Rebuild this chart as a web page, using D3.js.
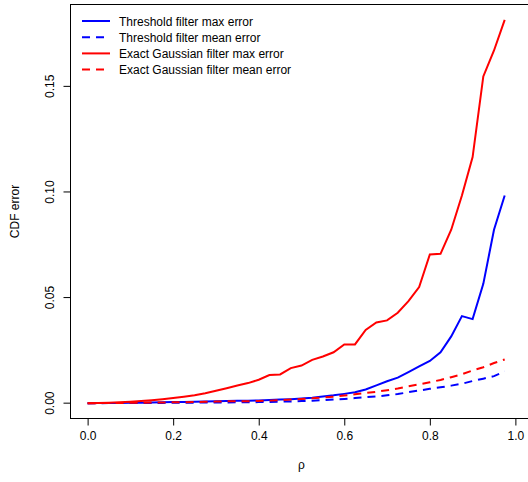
<!DOCTYPE html>
<html>
<head>
<meta charset="utf-8">
<script src="https://cdn.jsdelivr.net/npm/d3@7"></script>
<style>
body{margin:0;background:#fff}
text{font-family:"Liberation Sans",Arial,Helvetica,sans-serif}
</style>
</head>
<body>
<div id="chart"></div>
<script>
var rho=[0,0.025,0.05,0.075,0.1,0.125,0.15,0.175,0.2,0.225,0.25,0.275,0.3,0.325,0.35,0.375,0.4,0.425,0.45,0.475,
         0.5,0.525,0.55,0.575,0.6,0.625,0.65,0.675,0.7,0.725,0.75,0.775,0.8,0.825,0.85,0.875,0.9,0.925,0.95,0.975];
var thrMax=[0,0.00002,0.00005,0.0001,0.00015,0.0002,0.0003,0.0004,0.0005,0.0006,0.0007,0.0008,0.0009,0.001,0.0011,0.0012,0.0013,0.0015,0.0017,0.0019,
            0.0022,0.0026,0.0032,0.0037,0.0044,0.0052,0.0065,0.0084,0.0104,0.0121,0.0147,0.0174,0.0200,0.0241,0.0316,0.0412,0.0398,0.0565,0.0821,0.0983];
var thrMean=[0,0.00001,0.00002,0.00004,0.00006,0.00008,0.0001,0.00013,0.00016,0.0002,0.00024,0.00028,0.00032,0.00037,0.00042,0.00047,0.0005,0.0006,0.0007,0.0008,
             0.001,0.0012,0.0014,0.0017,0.002,0.0024,0.0028,0.0032,0.0037,0.0043,0.0052,0.006,0.0068,0.0075,0.0083,0.0092,0.0105,0.0116,0.0128,0.015];
var gauMax=[0,0.00005,0.0002,0.0004,0.0007,0.001,0.0014,0.0019,0.0024,0.003,0.0037,0.0047,0.0059,0.0071,0.0084,0.0095,0.0111,0.0133,0.0136,0.0166,
            0.0178,0.0205,0.0221,0.0241,0.0278,0.0278,0.0347,0.0382,0.0392,0.0428,0.0483,0.055,0.0704,0.0707,0.0821,0.0983,0.1165,0.1547,0.167,0.1815];
var gauMean=[0,0.00002,0.00005,0.0001,0.00015,0.0002,0.00026,0.00032,0.0004,0.00048,0.00056,0.00065,0.00075,0.00085,0.0009,0.00095,0.001,0.0012,0.0014,0.0017,
             0.002,0.0023,0.0027,0.0031,0.0036,0.0042,0.0048,0.0054,0.0061,0.0069,0.008,0.0089,0.0099,0.011,0.0123,0.0137,0.0155,0.017,0.019,0.0207];
var xticks=[0,0.2,0.4,0.6,0.8,1.0];
var yticks=[0,0.05,0.10,0.15];
var labels=["Threshold filter max error","Threshold filter mean error","Exact Gaussian filter max error","Exact Gaussian filter mean error"];

var series=[
    {"values":thrMax,"color":"#0000ff","dash":null},
    {"values":thrMean,"color":"#0000ff","dash":"8,6"},
    {"values":gauMax,"color":"#ff0000","dash":null},
    {"values":gauMean,"color":"#ff0000","dash":"8,6"}
];

var svgwidth=528, svgheight=482;
var margin={"left":70.5,"right":532.5,"top":4.5,"bottom":418.5};

// R style 4% padding on both axes
var ymax=d3.max(series,function(s){return d3.max(s.values)});
var xscale=d3.scaleLinear()
             .domain([-0.04,1.04])
             .range([margin.left,margin.right]);
var yscale=d3.scaleLinear()
             .domain([-0.04*ymax,1.04*ymax])
             .range([margin.bottom,margin.top]);

var svg=d3.select("#chart")
          .append("svg")
          .attr("width",svgwidth)
          .attr("height",svgheight);

// plot box
svg.append("rect")
   .attr("x",margin.left)
   .attr("y",margin.top)
   .attr("width",margin.right-margin.left)
   .attr("height",margin.bottom-margin.top)
   .attr("fill","none")
   .attr("stroke","#000")
   .attr("stroke-width",1);

var xAxis=d3.axisBottom(xscale)
            .tickValues(xticks)
            .tickSize(7)
            .tickPadding(6)
            .tickFormat(d3.format(".1f"));
var gx=svg.append("g")
          .attr("transform","translate(0,"+margin.bottom+")")
          .call(xAxis);
gx.select(".domain")
  .attr("d","M"+xscale(0)+",0H"+xscale(1));
gx.selectAll("text")
  .style("font-size","12px")
  .attr("fill","#000");

var yAxis=d3.axisLeft(yscale)
            .tickValues(yticks)
            .tickSize(7)
            .tickFormat(d3.format(".2f"));
var gy=svg.append("g")
          .attr("transform","translate("+margin.left+",0)")
          .call(yAxis);
gy.select(".domain").remove();
gy.selectAll(".tick").attr("transform",null);
gy.selectAll(".tick line")
  .attr("y1",function(d){return yscale(d)})
  .attr("y2",function(d){return yscale(d)});
gy.selectAll(".tick text")
  .style("font-size","12px")
  .attr("fill","#000")
  .attr("text-anchor","middle")
  .attr("dy",null)
  .attr("x",0)
  .attr("y",0)
  .attr("transform",function(d){return "translate(-21,"+yscale(d)+") rotate(-90) translate(0,4)"});

svg.append("text")
   .attr("x",(xscale(0)+xscale(1))/2)
   .attr("y",469)
   .attr("text-anchor","middle")
   .style("font-size","12px")
   .text("ρ");

svg.append("text")
   .attr("transform","translate(19,"+((margin.top+margin.bottom)/2)+") rotate(-90)")
   .attr("text-anchor","middle")
   .style("font-size","12px")
   .text("CDF error");

var line=d3.line()
           .x(function(d,i){return xscale(rho[i])})
           .y(function(d){return yscale(d)});

svg.append("g")
   .selectAll("path")
   .data(series)
   .enter()
   .append("path")
   .attr("d",function(s){return line(s.values)})
   .attr("fill","none")
   .attr("stroke",function(s){return s.color})
   .attr("stroke-width",2)
   .attr("stroke-dasharray",function(s){return s.dash});

// legend, no border
var legend=svg.append("g")
              .selectAll("g")
              .data(series)
              .enter()
              .append("g")
              .attr("transform",function(d,i){return "translate(0,"+(21+i*16.2)+")"});
legend.append("line")
      .attr("x1",82)
      .attr("x2",110)
      .attr("stroke",function(s){return s.color})
      .attr("stroke-width",2)
      .attr("stroke-dasharray",function(s){return s.dash});
legend.append("text")
      .attr("x",119)
      .attr("y",4.5)
      .style("font-size","12px")
      .text(function(d,i){return labels[i]});
</script>
</body>
</html>
